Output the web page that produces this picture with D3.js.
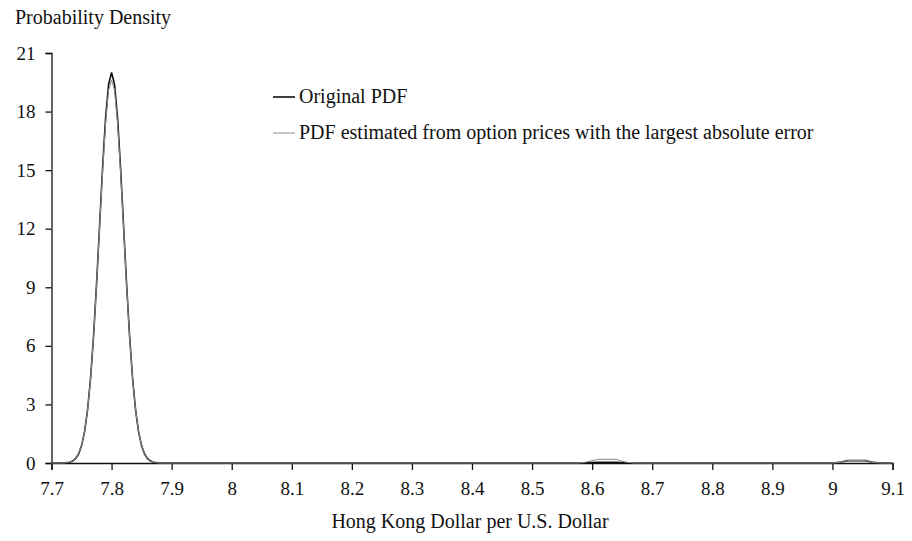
<!DOCTYPE html>
<html><head><meta charset="utf-8">
<script src="https://cdn.jsdelivr.net/npm/d3@7"></script>
<style>
body{margin:0;background:#fff;}
svg{display:block;}
text{font-family:"Liberation Serif","Times New Roman",serif;fill:#111;}
</style></head>
<body>
<svg id="chart" width="912" height="541"></svg>
<script>
// ---- data ----
const xValues = [7.70, 7.72, 7.725, 7.73, 7.735, 7.74, 7.745, 7.75, 7.755, 7.76, 7.765, 7.77, 7.775, 7.78, 7.785, 7.79, 7.795, 7.80,
  7.805, 7.81, 7.815, 7.82, 7.825, 7.83, 7.835, 7.84, 7.845, 7.85, 7.855, 7.86, 7.865, 7.87, 7.875, 7.88,
  8.58, 8.59, 8.61, 8.64, 8.655, 8.67, 9.00, 9.015, 9.025, 9.055, 9.065, 9.08, 9.10];
const originalPDF = [0, 0, 0.02, 0.04, 0.10, 0.22, 0.46, 0.88, 1.59, 2.71, 4.33, 6.49, 9.16, 12.13, 15.10, 17.65, 19.38, 20.0,
  19.38, 17.65, 15.10, 12.13, 9.16, 6.49, 4.33, 2.71, 1.59, 0.88, 0.46, 0.22, 0.10, 0.04, 0.02, 0,
  0, 0.01, 0.03, 0.03, 0.01, 0, 0, 0.05, 0.12, 0.12, 0.05, 0, 0];
const estimatedPDF = [0, 0, 0.02, 0.05, 0.11, 0.23, 0.47, 0.90, 1.60, 2.70, 4.30, 6.45, 9.10, 12.05, 14.90, 17.40, 19.10, 19.6,
  19.10, 17.40, 14.90, 12.05, 9.10, 6.45, 4.30, 2.70, 1.60, 0.90, 0.47, 0.23, 0.11, 0.05, 0.02, 0,
  0, 0.05, 0.19, 0.19, 0.05, 0, 0, 0.04, 0.13, 0.13, 0.04, 0, 0];
const xTicks = [7.7, 7.8, 7.9, 8.0, 8.1, 8.2, 8.3, 8.4, 8.5, 8.6, 8.7, 8.8, 8.9, 9.0, 9.1];
const xTickLabels = ["7.7","7.8","7.9","8","8.1","8.2","8.3","8.4","8.5","8.6","8.7","8.8","8.9","9","9.1"];
const yTicks = [0, 3, 6, 9, 12, 15, 18, 21];
const seriesNames = ["Original PDF", "PDF estimated from option prices with the largest absolute error"];

// ---- chart ----
const svg = d3.select("#chart");
const x = d3.scaleLinear().domain([7.7, 9.1]).range([51.5, 892.5]);
const y = d3.scaleLinear().domain([0, 21]).range([463, 53]);

const xAxis = d3.axisBottom(x).tickValues(xTicks).tickSizeOuter(0).tickSize(7).tickPadding(12)
  .tickFormat((d, i) => xTickLabels[i]);
const gx = svg.append("g").attr("transform", `translate(0,${y(0)})`).call(xAxis);
const yAxis = d3.axisLeft(y).tickValues(yTicks).tickSizeOuter(0).tickSize(6).tickPadding(10);
const gy = svg.append("g").attr("transform", `translate(${x(7.7)},0)`).call(yAxis);
[gx, gy].forEach(g => {
  g.select(".domain").attr("stroke", "#111").attr("stroke-width", 1.3);
  g.selectAll(".tick line").attr("stroke", "#111").attr("stroke-width", 1.3);
  g.selectAll(".tick text").style("font-family", '"Liberation Serif", serif').style("font-size", "19px").attr("fill", "#111");
});

const pts = xValues.map((v, i) => ({x: v, o: originalPDF[i], e: estimatedPDF[i]}));
const lineO = d3.line().x(d => x(d.x)).y(d => y(d.o));
const lineE = d3.line().x(d => x(d.x)).y(d => y(d.e));
svg.append("path").datum(pts).attr("d", lineO).attr("fill", "none").attr("stroke", "#111").attr("stroke-width", 1.6);
svg.append("path").datum(pts).attr("d", lineE).attr("fill", "none").attr("stroke", "#8a8a8a").attr("stroke-width", 1);

// legend
const legend = svg.append("g");
[{c: "#111", w: 1.6}, {c: "#8a8a8a", w: 1}].forEach((s, i) => {
  const ly = 97 + i * 36;
  legend.append("line").attr("x1", 273).attr("x2", 295).attr("y1", ly).attr("y2", ly)
    .attr("stroke", s.c).attr("stroke-width", s.w);
  legend.append("text").attr("x", 299).attr("y", ly + 6).style("font-size", "20px").text(seriesNames[i]);
});

// titles
svg.append("text").attr("x", 15).attr("y", 24).style("font-size", "20px").text("Probability Density");
svg.append("text").attr("x", 470).attr("y", 528).attr("text-anchor", "middle").style("font-size", "20px")
  .text("Hong Kong Dollar per U.S. Dollar");
</script>
</body></html>
